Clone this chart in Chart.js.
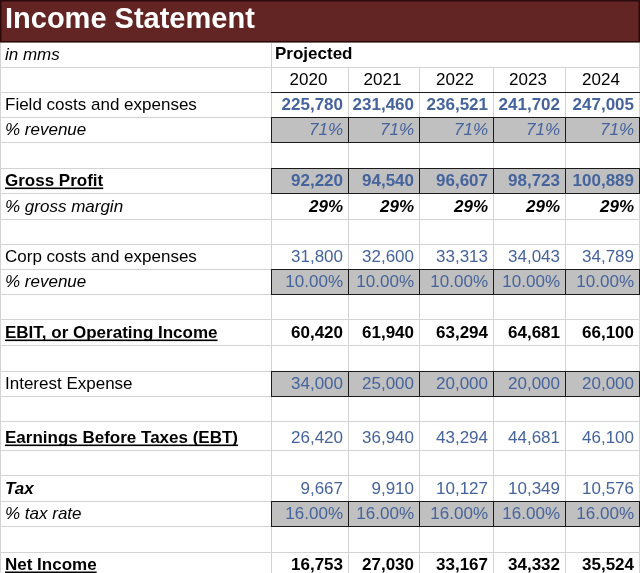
<!DOCTYPE html>
<html>
<head>
<meta charset="utf-8">
<script src="https://cdn.jsdelivr.net/npm/chart.js@4.4.0/dist/chart.umd.min.js"></script>
<style>
    html, body { margin: 0; padding: 0; background: #fff; }
    canvas { display: block; }
</style>
</head>
<body>
<canvas id="sheet" width="640" height="573"></canvas>
<script>
// 표 데이터
const title = 'Income Statement';
const unitsNote = 'in mms';
const periodHeader = 'Projected';
const years = ['2020', '2021', '2022', '2023', '2024'];

const fieldCosts = [225780, 231460, 236521, 241702, 247005];
const fieldPct = [71, 71, 71, 71, 71];
const grossProfit = [92220, 94540, 96607, 98723, 100889];
const grossMargin = [29, 29, 29, 29, 29];
const corpCosts = [31800, 32600, 33313, 34043, 34789];
const corpPct = [10, 10, 10, 10, 10];
const ebit = [60420, 61940, 63294, 64681, 66100];
const interest = [34000, 25000, 20000, 20000, 20000];
const ebt = [26420, 36940, 43294, 44681, 46100];
const tax = [9667, 9910, 10127, 10349, 10576];
const taxRate = [16, 16, 16, 16, 16];
const netIncome = [16753, 27030, 33167, 34332, 35524];

// 시트 레이아웃 (열 너비 / 행 높이, 스케일 단위)
const colWidths = [271, 77, 71, 74, 72, 74];
const rowHeights = [42, 25, 25, 25, 25, 26, 25, 26, 25, 25, 25, 25, 26, 26, 25, 25, 29, 25, 26, 25, 26, 25];

const BLUE = '#45639c';
const FONT = "'Liberation Sans', Arial, sans-serif";

// 행 정의 (0번 행은 제목줄)
const blank = { label: '' };
const rows = [
    null,
    { label: unitsNote, labelStyle: 'italic', header: periodHeader },
    { label: '', years: true },
    { label: 'Field costs and expenses', values: fieldCosts, fmt: 'num', valStyle: 'bold', color: BLUE },
    { label: '% revenue', labelStyle: 'italic', values: fieldPct, fmt: 'pct0', valStyle: 'italic', color: BLUE, shaded: true },
    blank,
    { label: 'Gross Profit', labelStyle: 'bold', underline: true, values: grossProfit, fmt: 'num', valStyle: 'bold', color: BLUE, shaded: true },
    { label: '% gross margin', labelStyle: 'italic', values: grossMargin, fmt: 'pct0', valStyle: 'italic bold', color: '#000' },
    blank,
    { label: 'Corp costs and expenses', values: corpCosts, fmt: 'num', valStyle: '', color: BLUE },
    { label: '% revenue', labelStyle: 'italic', values: corpPct, fmt: 'pct2', valStyle: '', color: BLUE, shaded: true },
    blank,
    { label: 'EBIT, or Operating Income', labelStyle: 'bold', underline: true, values: ebit, fmt: 'num', valStyle: 'bold', color: '#000' },
    blank,
    { label: 'Interest Expense', values: interest, fmt: 'num', valStyle: '', color: BLUE, shaded: true },
    blank,
    { label: 'Earnings Before Taxes (EBT)', labelStyle: 'bold', underline: true, values: ebt, fmt: 'num', valStyle: '', color: BLUE },
    blank,
    { label: 'Tax', labelStyle: 'italic bold', values: tax, fmt: 'num', valStyle: '', color: BLUE },
    { label: '% tax rate', labelStyle: 'italic', values: taxRate, fmt: 'pct2', valStyle: '', color: BLUE, shaded: true },
    blank,
    { label: 'Net Income', labelStyle: 'bold', underline: true, values: netIncome, fmt: 'num', valStyle: 'bold', color: '#000' }
];

// 누적 경계 계산
const colEdges = colWidths.reduce((a, w) => { a.push(a[a.length - 1] + w); return a; }, [0]);
const rowEdges = rowHeights.reduce((a, h) => { a.push(a[a.length - 1] + h); return a; }, [0]);

function fmtValue(v, fmt) {
    if (fmt === 'pct0') return v + '%';
    if (fmt === 'pct2') return v.toFixed(2) + '%';
    return v.toLocaleString('en-US');
}

// 표 그리기 플러그인
const tablePlugin = {
    id: 'tablePlugin',
    afterDraw(chart) {
        const ctx = chart.ctx;
        const xs = chart.scales.x;
        const ys = chart.scales.y;
        const px = v => Math.round(xs.getPixelForValue(v));
        const py = v => Math.round(ys.getPixelForValue(v));
        const W = px(colEdges[colEdges.length - 1]);
        ctx.save();

        // 배경
        ctx.fillStyle = '#fff';
        ctx.fillRect(0, 0, chart.width, chart.height);

        // 격자선
        ctx.strokeStyle = '#d3d3d3';
        ctx.lineWidth = 1;
        for (let r = 1; r < rowEdges.length; r++) {
            const y = py(rowEdges[r]) + 0.5;
            ctx.beginPath(); ctx.moveTo(0, y); ctx.lineTo(W + 1, y); ctx.stroke();
        }
        for (let r = 1; r < rows.length; r++) {
            const y0 = py(rowEdges[r]), y1 = py(rowEdges[r + 1]);
            colEdges.forEach((e, c) => {
                if (rows[r].header && c > 1 && c < colEdges.length - 1) return;
                const x = px(e) + 0.5;
                ctx.beginPath(); ctx.moveTo(x, y0); ctx.lineTo(x, y1); ctx.stroke();
            });
        }

        // 음영 셀
        rows.forEach((row, r) => {
            if (!row || !row.shaded) return;
            const y0 = py(rowEdges[r]), y1 = py(rowEdges[r + 1]);
            for (let c = 1; c < colEdges.length; c++) {
                const x0 = px(colEdges[c]), x1 = px(colEdges[c + 1] !== undefined ? colEdges[c + 1] : colEdges[c]);
                if (c + 1 >= colEdges.length) continue;
                ctx.fillStyle = '#c0c0c0';
                ctx.fillRect(x0, y0, x1 - x0, y1 - y0);
                ctx.strokeStyle = '#1a1a1a';
                ctx.strokeRect(x0 + 0.5, y0 + 0.5, x1 - x0, y1 - y0);
            }
        });

        // 연도 행 아래 선
        ctx.strokeStyle = '#1a1a1a';
        const yl = py(rowEdges[3]) + 0.5;
        ctx.beginPath(); ctx.moveTo(px(colEdges[1]), yl); ctx.lineTo(W + 1, yl); ctx.stroke();

        // 제목줄
        const tb = py(rowEdges[1]);
        ctx.fillStyle = '#632523';
        ctx.fillRect(0, 0, chart.width, tb);
        ctx.strokeStyle = '#2a0a0a';
        ctx.lineWidth = 1.5;
        ctx.strokeRect(0.75, 0.75, chart.width - 1.5, tb - 1);
        ctx.fillStyle = '#fff';
        ctx.font = 'bold 29px ' + FONT;
        ctx.textBaseline = 'alphabetic';
        ctx.textAlign = 'left';
        ctx.fillText(title, 5, tb - 14);

        // 텍스트
        ctx.lineWidth = 1;
        rows.forEach((row, r) => {
            if (!row) return;
            const base = py(rowEdges[r + 1]) - 7.5;
            if (row.label) {
                ctx.font = (row.labelStyle || '') + ' 17px ' + FONT;
                ctx.fillStyle = '#000';
                ctx.textAlign = 'left';
                ctx.fillText(row.label, 5, base);
                if (row.underline) {
                    const w = ctx.measureText(row.label).width;
                    ctx.fillRect(5, base + 2, w, 1.6);
                }
            }
            if (row.header) {
                ctx.font = 'bold 17px ' + FONT;
                ctx.fillStyle = '#000';
                ctx.textAlign = 'left';
                ctx.fillText(row.header, px(colEdges[1]) + 4, base - 1);
            }
            if (row.years) {
                ctx.font = '17px ' + FONT;
                ctx.fillStyle = '#000';
                ctx.textAlign = 'center';
                years.forEach((yr, i) => {
                    const cx = (px(colEdges[i + 1]) + px(colEdges[i + 2])) / 2 - 1;
                    ctx.fillText(yr, cx, base);
                });
            }
            if (row.values) {
                ctx.font = (row.valStyle || '') + ' 17px ' + FONT;
                ctx.fillStyle = row.color;
                ctx.textAlign = 'right';
                row.values.forEach((v, i) => {
                    ctx.fillText(fmtValue(v, row.fmt), px(colEdges[i + 2]) - 5, base);
                });
            }
        });
        ctx.restore();
    }
};

const chart = new Chart(document.getElementById('sheet'), {
    type: 'scatter',
    data: { datasets: [] },
    options: {
        responsive: false,
        animation: false,
        devicePixelRatio: 1,
        layout: { padding: 0 },
        plugins: { legend: { display: false }, tooltip: { enabled: false } },
        scales: {
            x: { type: 'linear', display: false, min: 0, max: 640 },
            y: { type: 'linear', display: false, reverse: true, min: 0, max: 573 }
        }
    },
    plugins: [tablePlugin]
});
</script>
</body>
</html>
